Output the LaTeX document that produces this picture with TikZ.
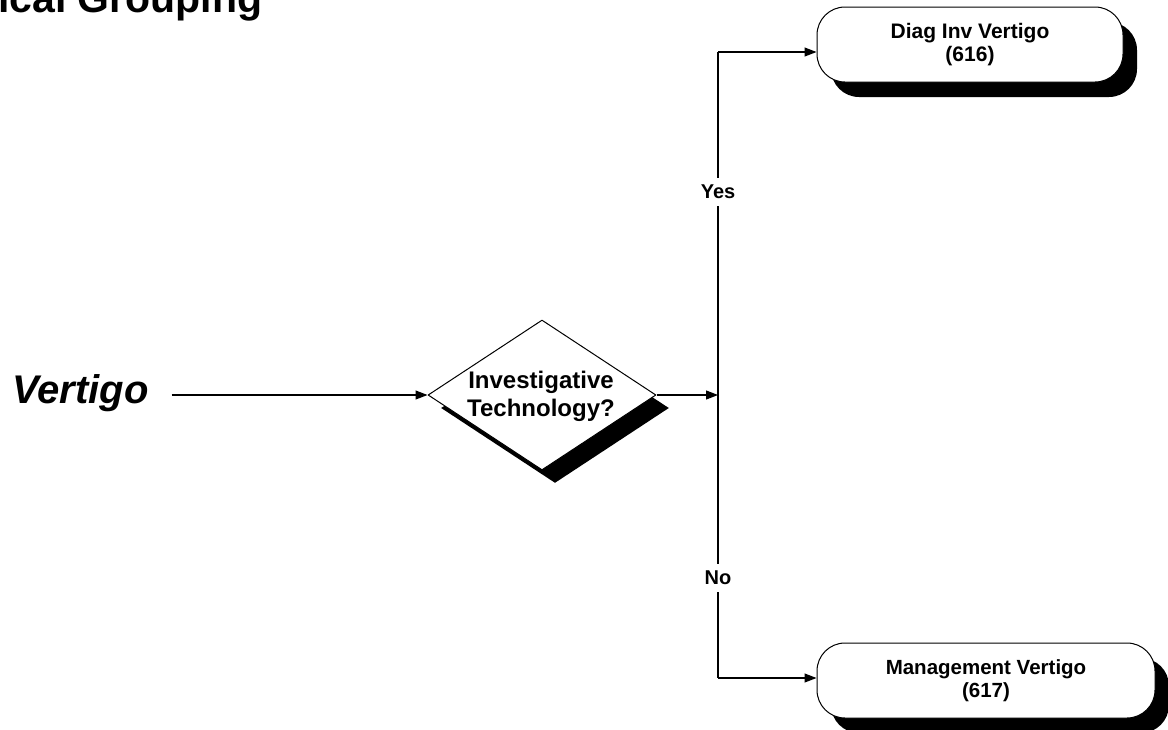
\documentclass[tikz,border=0pt]{standalone}
\usepackage{fontspec}
\setmainfont{Liberation Sans}
\usetikzlibrary{arrows.meta,positioning,calc,shapes.geometric,shadows}

\begin{document}
\begin{tikzpicture}[x=1pt,y=-1pt, line join=round,
  flow/.style={line width=1.1pt,-{Triangle[length=12pt,width=9pt]}},
  term/.style={draw,line width=1pt,fill=white,rounded corners=28pt,minimum height=75pt,align=center,font=\fontsize{21}{23}\selectfont\bfseries,drop shadow={shadow xshift=14pt,shadow yshift=-15pt,opacity=1,fill=black}},
  lbl/.style={fill=white,inner sep=7pt,font=\fontsize{20}{22}\selectfont\bfseries}]
\clip (0,0) rectangle (1168,729);
\node[anchor=base west,inner sep=0,font=\fontsize{41}{45}\selectfont\bfseries] (ttl) at (-2,12) {ical Grouping};
\node[anchor=base west,inner sep=0,font=\fontsize{40}{44}\selectfont\bfseries\itshape] (vtg) at (12,403) {Vertigo};
\node[diamond,draw,line width=1pt,fill=white,minimum width=228pt,minimum height=150pt,inner sep=0,drop shadow={shadow xshift=13pt,shadow yshift=-13pt,opacity=1,fill=black}] (dq) at (542,395) {};
\node[align=center,font=\fontsize{24}{28}\selectfont\bfseries] (dqt) at (541,396) {Investigative\\Technology?};
\node[term,minimum width=306pt] (dinv) at (970,44.5) {Diag Inv Vertigo\\(616)};
\node[term,minimum width=338pt,font=\fontsize{20.5}{23}\selectfont\bfseries] (mgmt) at (986,680.5) {Management Vertigo\\(617)};
\coordinate (jn) at (718,395);
\coordinate (yesbend) at (718,52);
\coordinate (nobend) at (718,678);
\draw[flow] ($(vtg.base east)+(23,-8)$)--(dq.west);
\draw[flow] (dq.east)--(jn);
\draw[line width=1.1pt] (yesbend)--(nobend);
\draw[flow] (yesbend)--(yesbend-|dinv.west);
\draw[flow] (nobend)--(nobend-|mgmt.west);
\node[lbl] (yes) at (718,192) {Yes};
\node[lbl] (no) at (718,578) {No};
\end{tikzpicture}
\end{document}
